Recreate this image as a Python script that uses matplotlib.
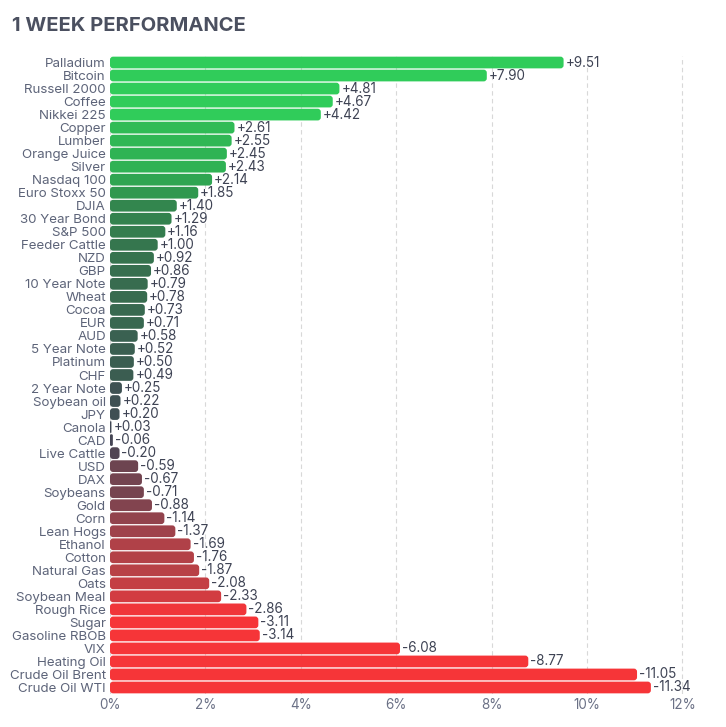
import matplotlib.pyplot as plt
import numpy as np
from matplotlib.colors import LinearSegmentedColormap
from matplotlib.patches import FancyBboxPatch

names = ["Palladium", "Bitcoin", "Russell 2000", "Coffee", "Nikkei 225", "Copper",
         "Lumber", "Orange Juice", "Silver", "Nasdaq 100", "Euro Stoxx 50", "DJIA",
         "30 Year Bond", "S&P 500", "Feeder Cattle", "NZD", "GBP", "10 Year Note",
         "Wheat", "Cocoa", "EUR", "AUD", "5 Year Note", "Platinum", "CHF",
         "2 Year Note", "Soybean oil", "JPY", "Canola", "CAD", "Live Cattle", "USD",
         "DAX", "Soybeans", "Gold", "Corn", "Lean Hogs", "Ethanol", "Cotton",
         "Natural Gas", "Oats", "Soybean Meal", "Rough Rice", "Sugar",
         "Gasoline RBOB", "VIX", "Heating Oil", "Crude Oil Brent", "Crude Oil WTI"]
changes = [9.51, 7.90, 4.81, 4.67, 4.42, 2.61, 2.55, 2.45, 2.43, 2.14, 1.85, 1.40,
           1.29, 1.16, 1.00, 0.92, 0.86, 0.79, 0.78, 0.73, 0.71, 0.58, 0.52, 0.50,
           0.49, 0.25, 0.22, 0.20, 0.03, -0.06, -0.20, -0.59, -0.67, -0.71, -0.88,
           -1.14, -1.37, -1.69, -1.76, -1.87, -2.08, -2.33, -2.86, -3.11, -3.14,
           -6.08, -8.77, -11.05, -11.34]
xticks = [0, 2, 4, 6, 8, 10, 12]

# finviz-style diverging scale, clipped at +/-3
scale = LinearSegmentedColormap.from_list("perf", [
    (0.0, "#f63538"), (1/6, "#bf4045"), (2/6, "#8b444e"), (0.5, "#414554"),
    (4/6, "#35764e"), (5/6, "#2f9e4f"), (1.0, "#30cc5a")])

vals = np.array(changes)
colors = [scale((np.clip(v, -3, 3) + 3) / 6) for v in vals]
y = np.arange(len(names))

fig = plt.figure(figsize=(7.26, 7.27), dpi=100)
ax = fig.add_axes([110/726, 33/727, 590/726, 638/727])
ax.set_xlim(0, 12.37)
ax.set_ylim(len(names) - 0.5, -0.5)

bars = ax.barh(y, np.abs(vals), height=0.9, color=colors, zorder=2)
# swap plain rectangles for rounded ones
aspect = (590 / 12.37) / (638 / 49)
for b in bars:
    x0, y0 = b.get_x(), b.get_y()
    w, h = b.get_width(), b.get_height()
    r = min(0.065, w / 2)
    fb = FancyBboxPatch((x0, y0), w, h, boxstyle=f"round,pad=0,rounding_size={r}",
                        mutation_aspect=aspect, fc=b.get_facecolor(), ec="none",
                        zorder=2)
    b.set_visible(False)
    ax.add_patch(fb)

for yi, v in zip(y, vals):
    ax.text(abs(v) + 0.04, yi, f"{v:+.2f}", va="center", ha="left",
            fontsize=9.7, color="#3e4354", family="Inter", zorder=3)

ax.set_yticks(y)
ax.set_yticklabels(names, fontsize=9.6, color="#5d6479", family="Inter")
ax.set_xticks(xticks)
ax.set_xticklabels([f"{t}%" for t in xticks], fontsize=9.7, color="#6b7186",
                   family="Inter")
ax.tick_params(length=0, pad=3)
ax.grid(axis="x", color="#d8d8d8", linestyle=(0, (4, 3)), linewidth=0.8, zorder=0)
for s in ax.spines.values():
    s.set_visible(False)

fig.text(12/726, 1 - 26/727, "1 WEEK PERFORMANCE", fontsize=14.5, fontweight="bold",
         color="#4b5060", va="center", ha="left", family="Inter")

fig.savefig("out.png", dpi=100)
